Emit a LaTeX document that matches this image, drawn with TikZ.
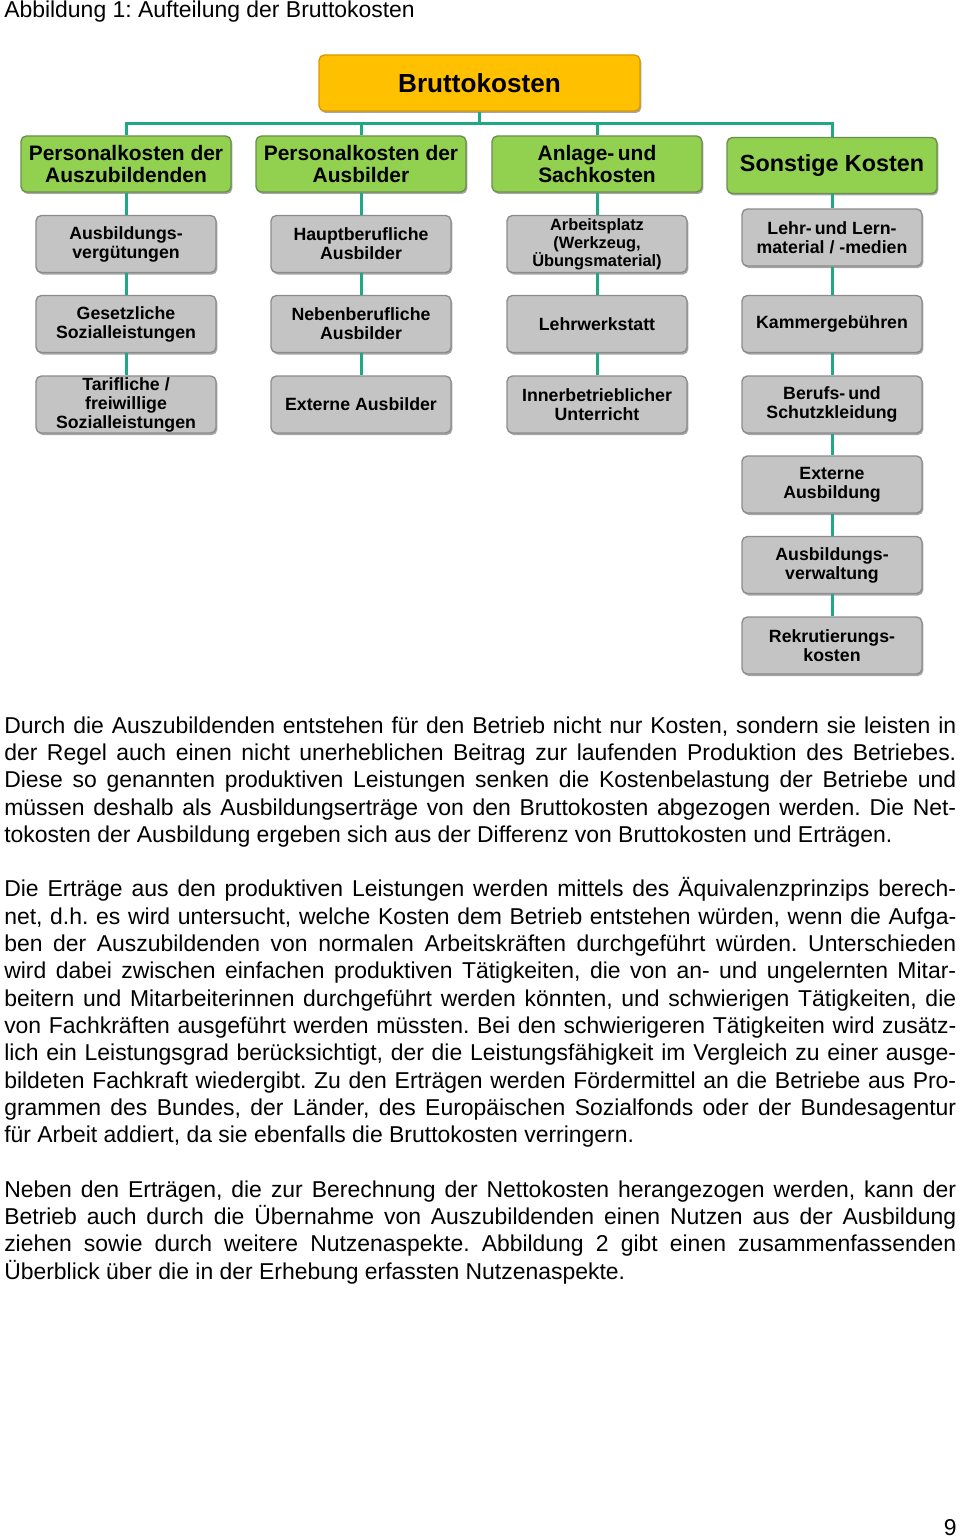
\documentclass[tikz,border=0pt]{standalone}
\usepackage{fontspec}
\setmainfont{Liberation Sans}
\usetikzlibrary{shadows}
\frenchspacing
\definecolor{orangefill}{HTML}{FFC000}
\definecolor{orangeline}{HTML}{D99A00}
\definecolor{greenfill}{HTML}{92D050}
\definecolor{greenline}{HTML}{6B8E4E}
\definecolor{grayfill}{HTML}{C4C4C4}
\definecolor{grayline}{HTML}{8C8C8C}
\definecolor{connteal}{HTML}{1FA884}
\newcommand\parasetup{\frenchspacing\spaceskip=4.78pt plus 4pt minus 1.6pt\relax\xspaceskip=\spaceskip\relax}
\newcommand\jl[1]{\hbox to \linewidth{#1}\par}
\newcommand\lastl[1]{\hbox to \linewidth{#1\hfil}\par}
\tikzset{
  boxshadow/.style={drop shadow={shadow xshift=1pt, shadow yshift=-1.5pt, opacity=0.35, fill=black}},
  bruttobox/.style={draw=orangeline, fill=orangefill, line width=1pt, rounded corners=4pt,
    minimum width=240.75pt, minimum height=42pt, inner sep=0pt, boxshadow,
    font=\bfseries\fontsize{19.6}{22}\selectfont},
  catbox/.style={draw=greenline, fill=greenfill, line width=1pt, rounded corners=4pt,
    minimum width=157.5pt, minimum height=42pt, inner xsep=2pt, inner ysep=0pt, boxshadow,
    align=center, font=\bfseries\fontsize{15.7}{16.5}\selectfont},
  itembox/.style={draw=grayline, fill=grayfill, line width=1pt, rounded corners=4pt,
    minimum width=135pt, minimum height=42.75pt, inner xsep=2pt, inner ysep=0pt, boxshadow,
    align=center, font=\bfseries\fontsize{13.3}{14.25}\selectfont},
  conn/.style={draw=connteal, line width=2.25pt},
  para/.style={anchor=base west, inner sep=0pt, text width=714pt,
    font=\fontsize{17.2}{20.5}\selectfont},
  plain/.style={inner sep=0pt, font=\fontsize{17.2}{20.5}\selectfont}
}
\begin{document}
\begin{tikzpicture}[x=0.75pt,y=-0.75pt]
\useasboundingbox (0,0) rectangle (960,1537);
\fill[white] (0,0) rectangle (960,1537);

\node[plain, anchor=base west] (cap) at (4,18) {Abbildung 1: Aufteilung der Bruttokosten};

% top
\node[bruttobox] (bk) at (479.5,83) {Bruttokosten};

% categories
\node[catbox] (g1) at (126,164) {Personalkosten der\\Auszubildenden};
\node[catbox] (g2) at (361,164) {Personalkosten der\\Ausbilder};
\node[catbox] (g3) at (597,164) {Anlage-\,und\\Sachkosten};
\node[catbox, font=\bfseries\fontsize{17.5}{19}\selectfont] (g4) at (832,165.5) {Sonstige Kosten};

% column 1
\node[itembox] (a1) at (126,244) {Ausbildungs-\\vergütungen};
\node[itembox] (a2) at (126,324) {Gesetzliche\\Sozialleistungen};
\node[itembox] (a3) at (126,404.5) {Tarifliche /\\freiwillige\\Sozialleistungen};
% column 2
\node[itembox] (b1) at (361,244) {Hauptberufliche\\Ausbilder};
\node[itembox] (b2) at (361,324) {Nebenberufliche\\Ausbilder};
\node[itembox] (b3) at (361,404.5) {Externe Ausbilder};
% column 3
\node[itembox, font=\bfseries\fontsize{12.3}{13.5}\selectfont] (c1) at (597,244) {Arbeitsplatz\\(Werkzeug,\\Übungsmaterial)};
\node[itembox] (c2) at (597,324) {Lehrwerkstatt};
\node[itembox] (c3) at (597,404.5) {Innerbetrieblicher\\Unterricht};
% column 4
\node[itembox] (d1) at (832,237.5) {Lehr-\,und Lern-\\material / -medien};
\node[itembox] (d2) at (832,324) {Kammergebühren};
\node[itembox] (d3) at (832,404.5) {Berufs-\,und\\Schutzkleidung};
\node[itembox] (d4) at (832,484.5) {Externe\\Ausbildung};
\node[itembox] (d5) at (832,565) {Ausbildungs-\\verwaltung};
\node[itembox] (d6) at (832,645.5) {Rekrutierungs-\\kosten};

% bus
\coordinate (busL) at (126,124);
\coordinate (busR) at (832,124);
\coordinate (busM) at (479.5,124);
\coordinate (bus2) at (361,124);
\coordinate (bus3) at (597,124);
\draw[conn] (g1) -- (busL) -- (busR) -- (g4);
\draw[conn] (bk) -- (busM);
\draw[conn] (g2) -- (bus2);
\draw[conn] (g3) -- (bus3);

% vertical chains
\draw[conn] (g1) -- (a1);
\draw[conn] (a1) -- (a2);
\draw[conn] (a2) -- (a3);
\draw[conn] (g2) -- (b1);
\draw[conn] (b1) -- (b2);
\draw[conn] (b2) -- (b3);
\draw[conn] (g3) -- (c1);
\draw[conn] (c1) -- (c2);
\draw[conn] (c2) -- (c3);
\draw[conn] (g4) -- (d1);
\draw[conn] (d1) -- (d2);
\draw[conn] (d2) -- (d3);
\draw[conn] (d3) -- (d4);
\draw[conn] (d4) -- (d5);
\draw[conn] (d5) -- (d6);

% body text
\node[para] (p1) at (4,733) {\parasetup%
\jl{Durch die Auszubildenden entstehen für den Betrieb nicht nur Kosten, sondern sie leisten in}%
\jl{der Regel auch einen nicht unerheblichen Beitrag zur laufenden Produktion des Betriebes.}%
\jl{Diese so genannten produktiven Leistungen senken die Kostenbelastung der Betriebe und}%
\jl{müssen deshalb als Ausbildungserträge von den Bruttokosten abgezogen werden. Die Net-}%
\lastl{tokosten der Ausbildung ergeben sich aus der Differenz von Bruttokosten und Erträgen.}};

\node[para] (p2) at (4,896.8) {\parasetup%
\jl{Die Erträge aus den produktiven Leistungen werden mittels des Äquivalenzprinzips berech-}%
\jl{net, d.h. es wird untersucht, welche Kosten dem Betrieb entstehen würden, wenn die Aufga-}%
\jl{ben der Auszubildenden von normalen Arbeitskräften durchgeführt würden. Unterschieden}%
\jl{wird dabei zwischen einfachen produktiven Tätigkeiten, die von an- und ungelernten Mitar-}%
\jl{beitern und Mitarbeiterinnen durchgeführt werden könnten, und schwierigen Tätigkeiten, die}%
\jl{von Fachkräften ausgeführt werden müssten. Bei den schwierigeren Tätigkeiten wird zusätz-}%
\jl{lich ein Leistungsgrad berücksichtigt, der die Leistungsfähigkeit im Vergleich zu einer ausge-}%
\jl{bildeten Fachkraft wiedergibt. Zu den Erträgen werden Fördermittel an die Betriebe aus Pro-}%
\jl{grammen des Bundes, der Länder, des Europäischen Sozialfonds oder der Bundesagentur}%
\lastl{für Arbeit addiert, da sie ebenfalls die Bruttokosten verringern.}};

\node[para] (p3) at (4,1197) {\parasetup%
\jl{Neben den Erträgen, die zur Berechnung der Nettokosten herangezogen werden, kann der}%
\jl{Betrieb auch durch die Übernahme von Auszubildenden einen Nutzen aus der Ausbildung}%
\jl{ziehen sowie durch weitere Nutzenaspekte. Abbildung 2 gibt einen zusammenfassenden}%
\lastl{Überblick über die in der Erhebung erfassten Nutzenaspekte.}};

\node[plain, anchor=base east] (pg) at (957,1535) {9};
\end{tikzpicture}
\end{document}
